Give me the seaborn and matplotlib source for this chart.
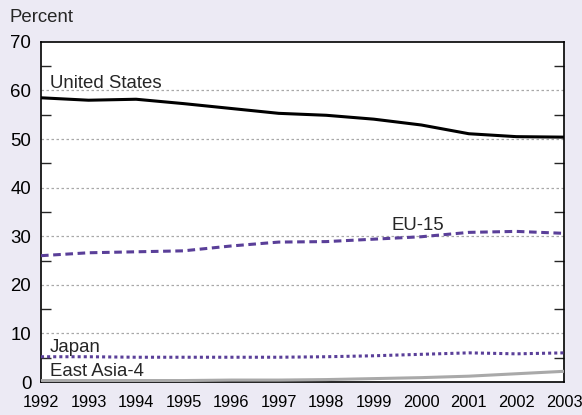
import pandas as pd
import matplotlib
matplotlib.use('Agg')
import matplotlib.pyplot as plt
import seaborn as sns

years = list(range(1992, 2004))
us = [58.5, 58.0, 58.2, 57.3, 56.3, 55.3, 54.9, 54.1, 52.9, 51.1, 50.5, 50.4]
eu15 = [26.0, 26.6, 26.8, 27.0, 28.0, 28.8, 28.9, 29.4, 29.9, 30.8, 31.0, 30.6]
japan = [5.2, 5.2, 5.1, 5.1, 5.1, 5.1, 5.2, 5.4, 5.7, 6.0, 5.8, 6.0]
east_asia4 = [0.3, 0.3, 0.3, 0.3, 0.4, 0.4, 0.5, 0.7, 0.9, 1.2, 1.7, 2.2]

sns.set_style('white')
plt.rcParams['font.family'] = ['Liberation Sans', 'DejaVu Sans']

bg = '#eceaf4'
purple = '#5a3f99'
fs = 13.4

fig = plt.figure(figsize=(5.82, 4.15), dpi=100, facecolor=bg)
ax = fig.add_axes([0.0704, 0.0795, 0.8986, 0.8195])
ax.set_facecolor('white')

df = pd.DataFrame({'year': years, 'us': us, 'eu': eu15, 'jp': japan, 'ea': east_asia4})

# dotted gridlines at the labelled values
for y in range(10, 70, 10):
    ax.axhline(y, color='#a8a8a8', lw=0.9, ls=(0, (2, 2)), zorder=1)

sns.lineplot(data=df, x='year', y='ea', ax=ax, color='#a9a9a9', lw=2.2, zorder=3)
sns.lineplot(data=df, x='year', y='jp', ax=ax, color=purple, lw=2.2, ls=(0, (1, 1)), zorder=3)
sns.lineplot(data=df, x='year', y='eu', ax=ax, color=purple, lw=2.2, ls=(0, (2.5, 1.5)), zorder=3)
sns.lineplot(data=df, x='year', y='us', ax=ax, color='black', lw=2.2, zorder=3)

ax.set_xlim(1992, 2003)
ax.set_ylim(0, 70)
ax.set_xlabel('')
ax.set_ylabel('')
ax.set_xticks(years)
ax.set_yticks(range(0, 80, 10))
ax.set_yticks(range(5, 70, 10), minor=True)
ax.tick_params(axis='both', which='major', direction='in', length=6, width=1,
               colors='black')
ax.tick_params(axis='x', labelsize=11.8, pad=9)
ax.tick_params(axis='y', which='major', length=0, pad=7, labelsize=fs)
ax.tick_params(axis='y', which='minor', direction='in', length=7, width=1,
               left=True, right=True)
for s in ax.spines.values():
    s.set_color('black')
    s.set_linewidth(1.2)

ax.text(1992.18, 60.6, 'United States', fontsize=fs)
ax.text(1999.37, 31.3, 'EU-15', fontsize=fs)
ax.text(1992.18, 6.2, 'Japan', fontsize=fs)
ax.text(1992.18, 1.2, 'East Asia-4', fontsize=fs)
fig.text(0.0155, 0.947, 'Percent', fontsize=fs)

fig.savefig('out.png', dpi=100, facecolor=bg)
